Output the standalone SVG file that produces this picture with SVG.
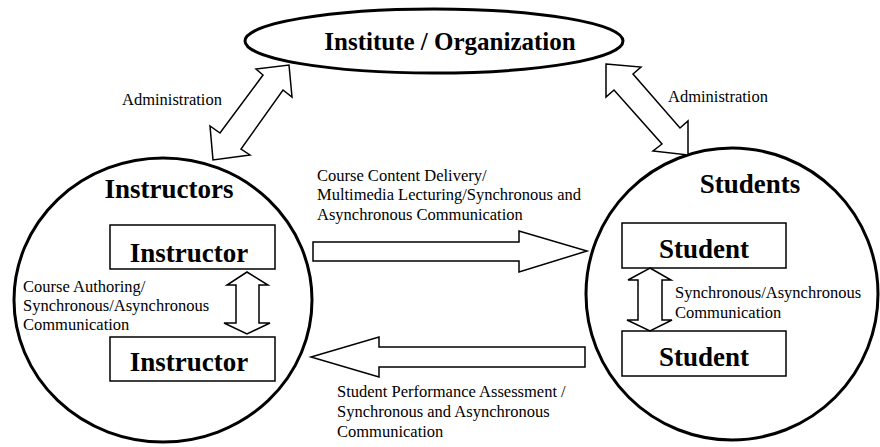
<svg xmlns="http://www.w3.org/2000/svg" width="880" height="447" viewBox="0 0 880 447">
<style>
.bg{fill:#fff}
.big{fill:#fff;stroke:#000;stroke-width:3}
.box{fill:#fff;stroke:#000;stroke-width:1.5}
.arr{fill:#fff;stroke:#000;stroke-width:1.5;stroke-linejoin:miter}
text{font-family:'Liberation Serif','Times New Roman',serif;fill:#000}
.bt{font-weight:bold}
.lt{font-size:16.5px}
</style>
<rect class="bg" x="0" y="0" width="880" height="447"/>
<g id="institute">
<ellipse class="big" cx="434" cy="41" rx="189" ry="32"/>
<text class="bt" x="450" y="50" font-size="25" text-anchor="middle">Institute / Organization</text>
</g>
<g id="instructors">
<ellipse class="big" cx="163" cy="300" rx="149" ry="142"/>
<text class="bt" x="169" y="198" font-size="27" text-anchor="middle">Instructors</text>
</g>
<g id="instructor1">
<rect class="box" x="110" y="225" width="165" height="44"/>
<text class="bt" x="189" y="262" font-size="27" text-anchor="middle">Instructor</text>
</g>
<g id="instructor2">
<rect class="box" x="110" y="337" width="165" height="44"/>
<text class="bt" x="189" y="371" font-size="27" text-anchor="middle">Instructor</text>
</g>
<g id="students">
<ellipse class="big" cx="732" cy="294" rx="146" ry="146"/>
<text class="bt" x="750" y="193" font-size="27" text-anchor="middle">Students</text>
</g>
<g id="student1">
<rect class="box" x="622" y="223" width="164" height="45"/>
<text class="bt" x="704" y="258" font-size="27" text-anchor="middle">Student</text>
</g>
<g id="student2">
<rect class="box" x="622" y="331" width="164" height="45"/>
<text class="bt" x="704" y="366" font-size="27" text-anchor="middle">Student</text>
</g>
<g id="connectors">
<polygon class="arr" points="213,160 210,126 220,133 263,75 256,69 289,65 292,97 283,90 241,149 250,155"/>
<polygon class="arr" points="606,64 641,67 633,74 680,128 688,121 688,155 653,151 662,144 614,90 606,97"/>
<polygon class="arr" points="313,242 519,242 519,231 587,251 519,272 519,261 313,261"/>
<polygon class="arr" points="585,347 379,347 379,337 311,357 379,377 379,367 585,367"/>
<polygon class="arr" points="247,272 268,285 259,285 259,323 270,323 247,334 224,323 236,323 236,285 227,285"/>
<polygon class="arr" points="650,268 671,280 662,280 662,320 672,320 650,331 627,320 638,320 638,280 628,280"/>
<text class="lt" x="122" y="105">Administration</text>
<text class="lt" x="668" y="102">Administration</text>
<text class="lt" x="317" y="181">Course Content Delivery/</text>
<text class="lt" x="317" y="200">Multimedia Lecturing/Synchronous and</text>
<text class="lt" x="317" y="220">Asynchronous Communication</text>
<text class="lt" x="337" y="397">Student Performance Assessment /</text>
<text class="lt" x="337" y="417">Synchronous and Asynchronous</text>
<text class="lt" x="337" y="437">Communication</text>
<text class="lt" x="23" y="292">Course Authoring/</text>
<text class="lt" x="23" y="311">Synchronous/Asynchronous</text>
<text class="lt" x="23" y="330">Communication</text>
<text class="lt" x="675" y="298">Synchronous/Asynchronous</text>
<text class="lt" x="675" y="318">Communication</text>
</g>
</svg>
